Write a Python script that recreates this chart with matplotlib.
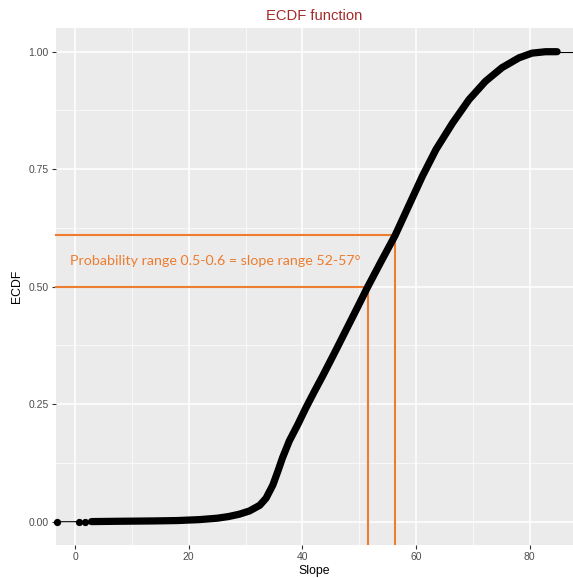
import matplotlib
matplotlib.use('Agg')
import matplotlib.pyplot as plt
from matplotlib.ticker import MultipleLocator

# ECDF curve (slope in degrees, cumulative probability)
slope = [2.9, 8, 14, 18, 21.9, 25, 27, 28.9, 30.7, 32.5, 33.6, 34.8, 35.7, 36.5,
         37.7, 39.2, 40.6, 42.1, 43.6, 45.6, 47.6, 49.6, 51.5, 53.9, 56.3, 58.7,
         61.1, 63.5, 66.4, 69.3, 72.2, 75.1, 78.1, 80.4, 82.8, 84.8]
ecdf = [0.0003, 0.001, 0.0017, 0.0025, 0.0045, 0.0075, 0.011, 0.016, 0.023, 0.035,
        0.050, 0.078, 0.108, 0.136, 0.172, 0.207, 0.242, 0.277, 0.311, 0.358,
        0.406, 0.454, 0.5, 0.555, 0.609, 0.672, 0.735, 0.792, 0.848, 0.898,
        0.937, 0.966, 0.987, 0.997, 1.0, 1.0]

# isolated low values and the flat tail
low_slope = [-3.2, 0.75, 1.75]
low_ecdf = [0.0, 0.0001, 0.0002]
tail_slope = [84.8, 87.6]
tail_ecdf = [1.0, 1.0]

# highlighted probability range
range_prob = [0.5, 0.609]
range_slope = [51.5, 56.3]
note = 'Probability range 0.5-0.6 = slope range 52-57°'

orange = '#ED7D31'
grey_txt = '#4D4D4D'

fig = plt.figure(figsize=(5.73, 5.78), dpi=100)
ax = fig.add_axes([0.0972, 0.0567, 0.9028, 0.8945])
ax.set_facecolor('#EBEBEB')
for s in ax.spines.values():
    s.set_visible(False)

ax.set_xlim(-3.4, 87.6)
ax.set_ylim(-0.05, 1.05)
ax.xaxis.set_major_locator(MultipleLocator(20))
ax.xaxis.set_minor_locator(MultipleLocator(10))
ax.yaxis.set_major_locator(MultipleLocator(0.25))
ax.yaxis.set_minor_locator(MultipleLocator(0.125))
ax.grid(which='major', color='white', lw=1.1)
ax.grid(which='minor', color='white', lw=0.5)
ax.set_axisbelow(True)
ax.set_yticks([0, 0.25, 0.5, 0.75, 1.0])
ax.set_yticklabels(['0.00', '0.25', '0.50', '0.75', '1.00'])
ax.tick_params(which='major', length=3, width=0.8, color='#333333',
               labelcolor=grey_txt, labelsize=7.5, pad=2)
ax.tick_params(which='minor', length=0)
for lab in ax.get_xticklabels() + ax.get_yticklabels():
    lab.set_family('Liberation Sans')

# orange guide lines
for p, s in zip(range_prob, range_slope):
    ax.plot([-3.4, s], [p, p], color=orange, lw=1.5, zorder=3, clip_on=False)
    ax.plot([s, s], [-0.05, p], color=orange, lw=1.5, zorder=3)

# ecdf
ax.plot(low_slope + [slope[0]], low_ecdf + [ecdf[0]], color='black', lw=0.8, zorder=4)
ax.plot(low_slope, low_ecdf, 'o', color='black', ms=4.2, zorder=4, clip_on=False)
ax.plot(tail_slope, tail_ecdf, color='black', lw=0.8, zorder=4)
ax.plot(slope, ecdf, color='black', lw=5.2, solid_capstyle='round',
        solid_joinstyle='round', zorder=5)

ax.text(-0.9, 0.554, note, color=orange, fontsize=10.25, family='Lato',
        va='center', ha='left', zorder=6)

ax.set_title('ECDF function', color='#A52A2A', fontsize=10.6,
             family='Liberation Sans', pad=6)
ax.set_xlabel('Slope', fontsize=8.8, family='Liberation Sans', color='black', labelpad=2)
ax.set_ylabel('ECDF', fontsize=8.8, family='Liberation Sans', color='black', labelpad=4)

fig.savefig('out.png', dpi=100)
